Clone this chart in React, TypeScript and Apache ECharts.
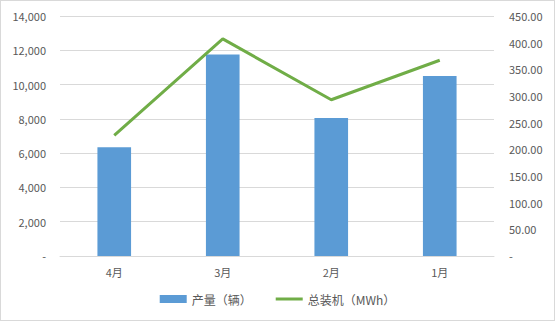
import React, { useEffect, useRef } from "react";
import * as echarts from "echarts";

const categories = ["4月", "3月", "2月", "1月"];
const production = [6350, 11750, 8050, 10500];
const capacity = [226, 407, 293, 367];
const leftTicks = { min: 0, max: 14000, interval: 2000 };
const rightTicks = { min: 0, max: 450, interval: 50 };

export default function App() {
  const ref = useRef<HTMLDivElement>(null);
  useEffect(() => {
    document.body.style.margin = "0";
    const chart = echarts.init(ref.current!, null, { renderer: "svg" });
    const font = "'Microsoft YaHei', 'Noto Sans CJK SC', sans-serif";
    const txt = { color: "#595959", fontSize: 11, fontFamily: font };
    chart.setOption({
      animation: false,
      backgroundColor: "#fff",
      grid: { left: 59, right: 60, top: 15, bottom: 64 },
      legend: {
        bottom: 10,
        left: "center",
        itemGap: 24,
        itemWidth: 27,
        itemHeight: 8,
        textStyle: { ...txt, fontSize: 12 },
        data: [
          { name: "产量（辆）", icon: "rect" },
          { name: "总装机（MWh）", icon: "path://M0,0h27v3H0z" },
        ],
      },
      xAxis: {
        type: "category",
        data: categories,
        axisLine: { lineStyle: { color: "#d9d9d9" } },
        axisTick: { show: false },
        axisLabel: { ...txt, margin: 10 },
      },
      yAxis: [
        {
          type: "value",
          ...leftTicks,
          axisLine: { show: false },
          axisTick: { show: false },
          splitLine: { lineStyle: { color: "#d9d9d9" } },
          axisLabel: {
            ...txt,
            margin: 14,
            formatter: (v: number) => (v === 0 ? "-" : v.toLocaleString("en-US")),
          },
        },
        {
          type: "value",
          ...rightTicks,
          position: "right",
          axisLine: { show: false },
          axisTick: { show: false },
          splitLine: { show: false },
          axisLabel: {
            ...txt,
            margin: 15,
            formatter: (v: number) => (v === 0 ? "-" : v.toFixed(2)),
          },
        },
      ],
      series: [
        {
          name: "产量（辆）",
          type: "bar",
          data: production,
          barWidth: "31%",
          itemStyle: { color: "#5b9bd5" },
        },
        {
          name: "总装机（MWh）",
          type: "line",
          yAxisIndex: 1,
          data: capacity,
          symbol: "none",
          lineStyle: { color: "#70ad47", width: 3 },
          itemStyle: { color: "#70ad47" },
        },
      ],
    });
    return () => chart.dispose();
  }, []);
  return (
    <div
      style={{
        width: 555,
        height: 321,
        boxSizing: "border-box",
        border: "1px solid #d9d9d9",
        position: "relative",
      }}
    >
      <div ref={ref} style={{ width: 553, height: 319 }} />
    </div>
  );
}
